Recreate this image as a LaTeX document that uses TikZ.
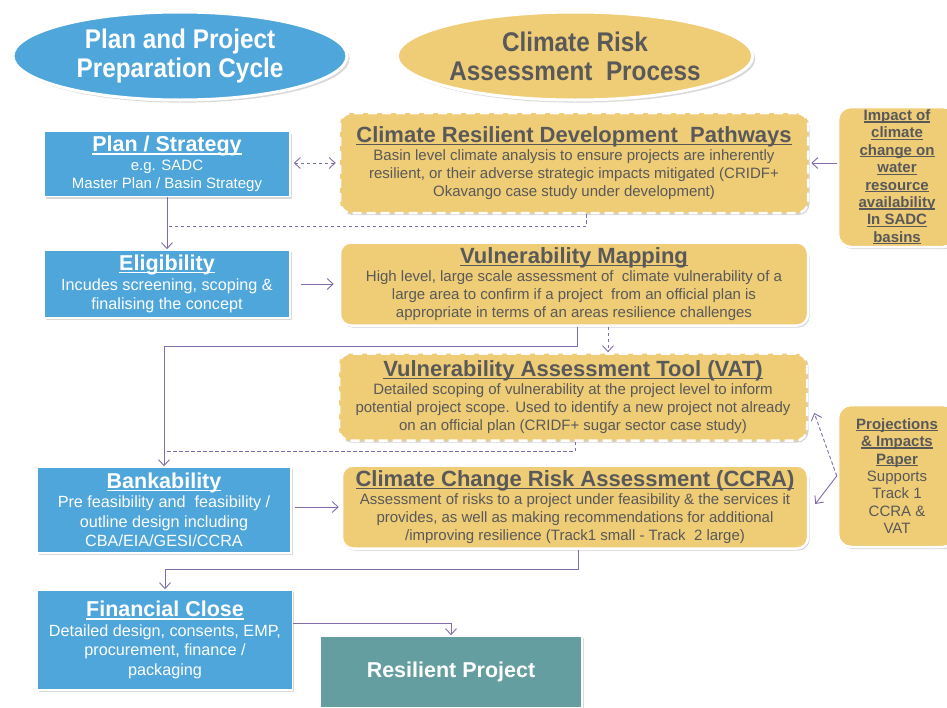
\documentclass[tikz,border=0pt]{standalone}
\usepackage{fontspec}
\setmainfont{Liberation Sans}
\newfontfamily\narrowfont[FakeStretch=0.9]{Liberation Sans}
\usetikzlibrary{shapes.geometric,shadows,arrows.meta}

\definecolor{cycleblue}{RGB}{79,166,219}
\definecolor{riskgold}{RGB}{239,204,118}
\definecolor{inkgray}{RGB}{89,89,89}
\definecolor{linkpurple}{RGB}{128,108,166}
\definecolor{resteal}{RGB}{101,158,160}

% underline that runs through the descenders
\newcommand{\tul}[1]{\leavevmode\setbox0\hbox{#1}\rlap{\rule[-0.13em]{\wd0}{0.075em}}\box0}
\newcommand{\cycletitle}[1]{{\fontsize{21.5}{22}\selectfont\bfseries\tul{#1}}}
\newcommand{\risktitle}[1]{{\fontsize{22}{22}\selectfont\bfseries\tul{#1}}}

\tikzset{
  heading/.style={ellipse, draw=white, line width=3pt, inner sep=0pt,
    minimum width=334pt, minimum height=88pt, align=center,
    font=\narrowfont\bfseries\fontsize{27}{29}\selectfont,
    drop shadow={opacity=0.3}},
  phase/.style={rectangle, fill=cycleblue, draw=white, line width=1.5pt,
    text=white, align=center, inner sep=2pt, minimum width=246pt,
    font=\fontsize{16.2}{19.5}\selectfont,
    drop shadow={opacity=0.3, shadow xshift=1.5pt, shadow yshift=-2pt}},
  risk/.style={rectangle, rounded corners=11pt, fill=riskgold, draw=white,
    line width=2.5pt, text=inkgray, align=center, inner sep=2pt,
    minimum width=468pt, font=\fontsize{15}{18}\selectfont,
    drop shadow={opacity=0.35, shadow xshift=1.5pt, shadow yshift=-2pt}},
  riskdash/.style={risk, dash pattern=on 9pt off 5pt},
  note/.style={rectangle, rounded corners=13pt, fill=riskgold, draw=white,
    line width=2.5pt, text=inkgray, align=center, inner sep=2pt,
    minimum width=118pt, font=\fontsize{15}{17.4}\selectfont,
    drop shadow={opacity=0.35, shadow xshift=1.5pt, shadow yshift=-2pt}},
  link/.style={draw=linkpurple, line width=0.9pt,
    -{Straight Barb[length=6pt,width=11pt]}},
  linkdash/.style={link, dash pattern=on 3.5pt off 2.5pt},
  bothends/.style={arrows={Straight Barb[length=6pt,width=11pt]-Straight Barb[length=6pt,width=11pt]}}
}

\begin{document}
\begin{tikzpicture}[x=1pt,y=-1pt]
  \useasboundingbox (0,0) rectangle (947,707);

  % headings
  \node[heading, fill=cycleblue, text=white] (cycle) at (180,56)
    {Plan and Project\\Preparation Cycle};
  \node[heading, fill=riskgold, text=inkgray] (process) at (575,56)
    {Climate Risk\\Assessment\ \ Process};

  % preparation cycle
  \node[phase, minimum height=65pt, font=\fontsize{15}{18.5}\selectfont] (plan) at (167,164)
    {\cycletitle{Plan / Strategy}\\e.g. SADC\\Master Plan / Basin Strategy};
  \node[phase, minimum height=68pt] (elig) at (167,284)
    {\cycletitle{Eligibility}\\Incudes screening, scoping \&\\finalising the concept};
  \node[phase, minimum width=254pt, minimum height=86pt] (bank) at (164,510)
    {\cycletitle{Bankability}\\Pre feasibility and\ \ feasibility /\\outline design including\\CBA/EIA/GESI/CCRA};
  \node[phase, minimum width=255pt, minimum height=100pt] (fin) at (165,640)
    {\cycletitle{Financial Close}\\Detailed design, consents, EMP,\\procurement, finance /\\packaging};
  \node[phase, fill=resteal, minimum width=262pt, minimum height=72pt,
    font=\fontsize{21.5}{22}\selectfont\bfseries] (resil) at (451,672)
    {Resilient Project};

  % risk assessment process
  \node[riskdash, minimum height=100pt] (crdp) at (574,163)
    {\risktitle{Climate Resilient Development\ \ Pathways}\\
     Basin level climate analysis to ensure projects are inherently\\
     resilient, or their adverse strategic impacts mitigated (CRIDF+\\
     Okavango case study under development)};
  \node[risk, minimum height=83pt] (vm) at (574,284)
    {\risktitle{Vulnerability Mapping}\\
     High level, large scale assessment of\ \ climate vulnerability of a\\
     large area to confirm if a project\ \ from an official plan is\\
     appropriate in terms of an areas resilience challenges};
  \node[riskdash, minimum height=87pt] (vat) at (573,397)
    {\risktitle{Vulnerability Assessment Tool (VAT)}\\
     Detailed scoping of vulnerability at the project level to inform\\
     potential project scope. Used to identify a new project not already\\
     on an official plan (CRIDF+ sugar sector case study)};
  \node[risk, minimum width=466pt, minimum height=83pt] (ccra) at (575,507)
    {\risktitle{Climate Change Risk Assessment (CCRA)}\\
     Assessment of risks to a project under feasibility \& the services it\\
     provides, as well as making recommendations for additional\\
     /improving resilience (Track1 small - Track\ \ 2 large)};

  % side notes
  \node[note, minimum height=140pt, font=\fontsize{15}{17.4}\selectfont\bfseries] (impact) at (897,177)
    {\tul{Impact of}\\\tul{climate}\\\tul{change on}\\\tul{water}\\\tul{resource}\\\tul{availability}\\\tul{In SADC}\\\tul{basins}};
  \node[note, minimum height=142pt] (proj) at (897,476)
    {\textbf{\tul{Projections}}\\\textbf{\tul{\& Impacts}}\\\textbf{\tul{Paper}}\\Supports\\Track 1\\CCRA \&\\VAT};

  % junctions on the left flow
  \coordinate (j1) at ([yshift=23pt]elig.north);
  \coordinate (j3) at ([yshift=15pt]bank.north);

  % connectors
  \draw[linkdash, bothends, shorten <=3pt, shorten >=3pt] (plan.east |- crdp.west) -- (crdp.west);
  \draw[link] (plan) -- (elig);
  \draw[linkdash, -] ([xshift=12pt]crdp.south) |- (j1);
  \draw[link, shorten <=10pt, shorten >=5pt] (elig.east) -- (vm.west);
  \draw[link, shorten >=2pt] (impact.west |- crdp.east) -- (crdp.east);
  \draw[link] ([xshift=3pt]vm.south) -- ++(0,20) -| (bank.north);
  \draw[linkdash] ([xshift=34pt]vm.south) -- ([xshift=34pt]vm.south |- vat.north);
  \draw[linkdash, -] ([xshift=2pt]vat.south) |- (j3);
  \draw[link, shorten <=3pt, shorten >=2pt] (bank.east |- ccra.west) -- (ccra.west);
  \draw[link] ([xshift=3pt]ccra.south) -- ++(0,20) -| (fin.north);
  \draw[link] ([yshift=17pt]fin.east) -| (resil.north);
  \draw[linkdash] (proj.west) -- ([xshift=6pt,yshift=-16pt]vat.east);
  \draw[link] (proj.west) -- ([xshift=6pt,yshift=3pt]ccra.east);
\end{tikzpicture}
\end{document}
